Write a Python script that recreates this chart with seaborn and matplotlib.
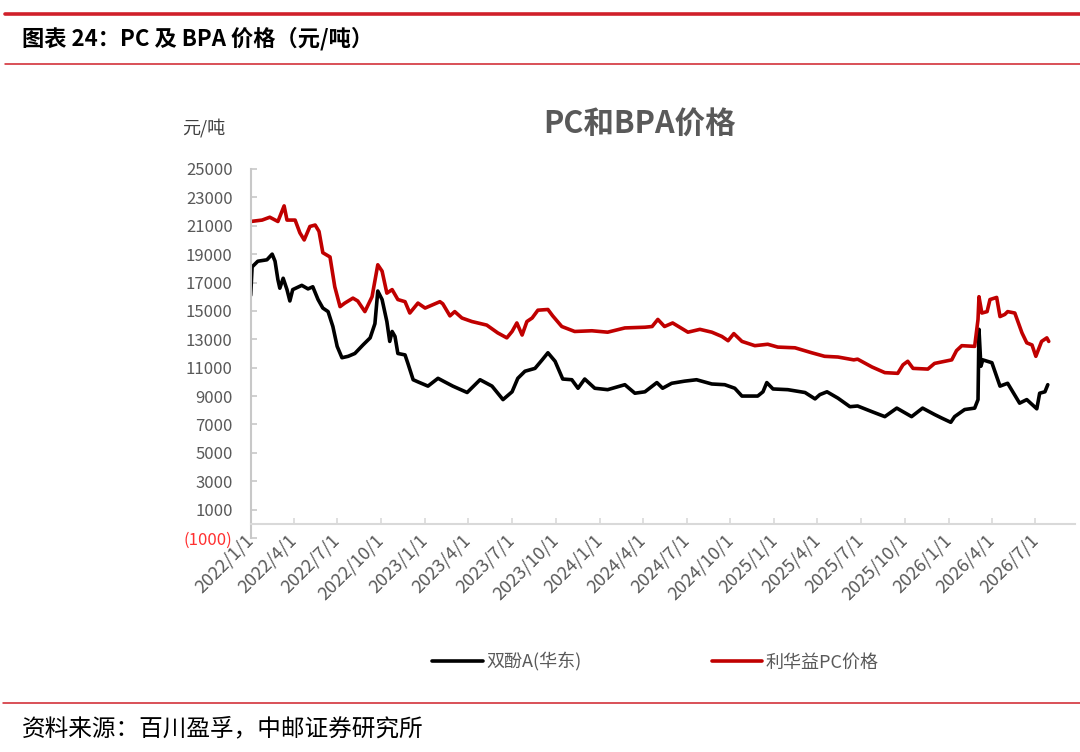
import pandas as pd
import numpy as np
import matplotlib
matplotlib.use('Agg')
import matplotlib.pyplot as plt
import matplotlib.ticker as mticker
from matplotlib.lines import Line2D
import seaborn as sns

# Data (元/吨)
bpa_dates = ['2022-01-01', '2022-01-04', '2022-01-16', '2022-02-04', '2022-02-15', '2022-02-21',
             '2022-02-27', '2022-03-03', '2022-03-10', '2022-03-18', '2022-03-24', '2022-03-30',
             '2022-04-18', '2022-05-01', '2022-05-11', '2022-05-22', '2022-06-01', '2022-06-12',
             '2022-06-22', '2022-07-01', '2022-07-11', '2022-07-24', '2022-08-07', '2022-08-24',
             '2022-09-08', '2022-09-18', '2022-09-24', '2022-10-03', '2022-10-13', '2022-10-19',
             '2022-10-24', '2022-10-30', '2022-11-05', '2022-11-20', '2022-11-26', '2022-12-07',
             '2022-12-17', '2023-01-07', '2023-01-28', '2023-02-11', '2023-02-28', '2023-03-30',
             '2023-04-26', '2023-05-21', '2023-06-13', '2023-07-02', '2023-07-14', '2023-07-29',
             '2023-08-19', '2023-09-03', '2023-09-15', '2023-09-30', '2023-10-16', '2023-11-04',
             '2023-11-17', '2023-12-01', '2023-12-22', '2024-01-18', '2024-02-23', '2024-03-15',
             '2024-04-05', '2024-04-30', '2024-05-12', '2024-05-31', '2024-06-27', '2024-07-22',
             '2024-08-23', '2024-09-19', '2024-10-10', '2024-10-25', '2024-11-27', '2024-12-08',
             '2024-12-16', '2024-12-29', '2025-01-29', '2025-03-06', '2025-03-27', '2025-04-06',
             '2025-04-21', '2025-05-14', '2025-06-08', '2025-06-24', '2025-07-24', '2025-08-20',
             '2025-09-14', '2025-10-15', '2025-11-07', '2025-12-02', '2025-12-17', '2026-01-05',
             '2026-01-13', '2026-02-03', '2026-02-24', '2026-03-03', '2026-03-05', '2026-03-09',
             '2026-03-13', '2026-04-01', '2026-04-18', '2026-05-04', '2026-05-29', '2026-06-13',
             '2026-07-04', '2026-07-10', '2026-07-21', '2026-07-27']
bpa_values = [16100, 18100, 18500, 18600, 19000, 18500,
              17200, 16600, 17300, 16500, 15700, 16500,
              16800, 16550, 16700, 15800, 15200, 14950,
              13900, 12500, 11700, 11800, 12000, 12600,
              13100, 14100, 16400, 15800, 14250, 12850,
              13550, 13200, 12000, 11900, 11300, 10150,
              10000, 9700, 10250, 10000, 9700, 9250,
              10150, 9700, 8750, 9300, 10250, 10750,
              10950, 11550, 12050, 11450, 10200, 10150,
              9550, 10200, 9550, 9450, 9800, 9200,
              9300, 9950, 9550, 9900, 10050, 10150,
              9850, 9800, 9550, 9000, 9000, 9300,
              9950, 9500, 9450, 9250, 8800, 9100,
              9300, 8850, 8250, 8300, 7900, 7550,
              8150, 7550, 8150, 7700, 7450, 7150,
              7550, 8050, 8150, 8750, 13700, 11100,
              11550, 11350, 9700, 9900, 8500, 8750,
              8100, 9200, 9300, 9800]

pc_dates = ['2022-01-01', '2022-01-25', '2022-02-10', '2022-02-27', '2022-03-12', '2022-03-18',
            '2022-04-04', '2022-04-14', '2022-04-23', '2022-05-05', '2022-05-16', '2022-05-24',
            '2022-06-01', '2022-06-16', '2022-06-26', '2022-07-07', '2022-07-17', '2022-08-03',
            '2022-08-13', '2022-08-28', '2022-09-12', '2022-09-24', '2022-10-03', '2022-10-13',
            '2022-10-24', '2022-11-05', '2022-11-20', '2022-11-30', '2022-12-17', '2023-01-01',
            '2023-02-01', '2023-02-07', '2023-02-22', '2023-03-04', '2023-03-19', '2023-04-09',
            '2023-05-10', '2023-06-02', '2023-06-21', '2023-07-02', '2023-07-12', '2023-07-23',
            '2023-08-02', '2023-08-13', '2023-08-25', '2023-09-15', '2023-09-25', '2023-10-14',
            '2023-11-10', '2023-12-16', '2024-01-18', '2024-02-23', '2024-04-05', '2024-04-20',
            '2024-05-02', '2024-05-16', '2024-06-02', '2024-07-04', '2024-07-29', '2024-08-23',
            '2024-09-13', '2024-09-26', '2024-10-08', '2024-10-25', '2024-11-21', '2024-12-18',
            '2025-01-08', '2025-02-13', '2025-03-20', '2025-04-16', '2025-05-14', '2025-06-16',
            '2025-06-24', '2025-07-24', '2025-08-20', '2025-09-16', '2025-09-27', '2025-10-07',
            '2025-10-18', '2025-11-18', '2025-12-02', '2026-01-07', '2026-01-17', '2026-01-28',
            '2026-02-24', '2026-03-03', '2026-03-05', '2026-03-11', '2026-03-22', '2026-03-28',
            '2026-04-11', '2026-04-18', '2026-04-28', '2026-05-04', '2026-05-19', '2026-06-03',
            '2026-06-13', '2026-06-24', '2026-07-02', '2026-07-06', '2026-07-14', '2026-07-25',
            '2026-07-29']
pc_values = [21300, 21400, 21600, 21300, 22400, 21400,
             21400, 20500, 20000, 20950, 21050, 20600,
             19100, 18800, 16700, 15300, 15550, 15900,
             15700, 14950, 16000, 18250, 17800, 16250,
             16500, 15800, 15650, 14850, 15550, 15200,
             15650, 15500, 14650, 14950, 14500, 14250,
             14000, 13450, 13100, 13550, 14150, 13300,
             14250, 14500, 15050, 15100, 14650, 13900,
             13550, 13600, 13500, 13800, 13850, 13900,
             14400, 13900, 14150, 13500, 13700, 13500,
             13200, 12900, 13400, 12850, 12550, 12650,
             12450, 12400, 12050, 11800, 11750, 11550,
             11600, 11050, 10650, 10600, 11200, 11450,
             10950, 10900, 11300, 11550, 12200, 12550,
             12500, 14400, 16000, 14850, 14950, 15800,
             15950, 14600, 14750, 14950, 14850, 13450,
             12750, 12600, 11800, 12150, 12850, 13100,
             12850]

series_names = ['双酚A(华东)', '利华益PC价格']
series_colors = ['#000000', '#c00000']
tick_dates = ['2022-01-01', '2022-04-01', '2022-07-01', '2022-10-01', '2023-01-01', '2023-04-01',
              '2023-07-01', '2023-10-01', '2024-01-01', '2024-04-01', '2024-07-01', '2024-10-01',
              '2025-01-01', '2025-04-01', '2025-07-01', '2025-10-01', '2026-01-01', '2026-04-01',
              '2026-07-01']

df = pd.concat([
    pd.DataFrame({'date': pd.to_datetime(bpa_dates), 'value': bpa_values, 'series': series_names[0]}),
    pd.DataFrame({'date': pd.to_datetime(pc_dates), 'value': pc_values, 'series': series_names[1]}),
], ignore_index=True)

sns.set_style('white')
plt.rcParams['font.family'] = ['Noto Sans CJK SC', 'DejaVu Sans']

fig = plt.figure(figsize=(10.8, 7.52), dpi=100)
ax = fig.add_axes([0.2321, 0.2846, 0.7633, 0.4907])

sns.lineplot(data=df, x='date', y='value', hue='series', hue_order=series_names,
             palette=series_colors, estimator=None, sort=False, linewidth=2.6, ax=ax)

# axes
ax.set_ylim(-1000, 25000)
ax.set_yticks(np.arange(-1000, 25001, 2000))
ax.yaxis.set_major_formatter(mticker.FuncFormatter(
    lambda v, p: f'({abs(int(v))})' if v < 0 else f'{int(v)}'))
ax.set_xlim(pd.Timestamp('2022-01-01'), pd.Timestamp('2026-09-22'))
ticks = pd.to_datetime(tick_dates)
ax.set_xticks(ticks)
ax.set_xticklabels([f'{d.year}/{d.month}/{d.day}' for d in ticks])
ax.set_xlabel('')
ax.set_ylabel('')

for s in ['top', 'right']:
    ax.spines[s].set_visible(False)
ax.spines['bottom'].set_position(('data', 0))
ax.spines['bottom'].set_color('#d9d9d9')
ax.spines['bottom'].set_linewidth(1.5)
ax.spines['left'].set_color('#c8c8c8')
ax.spines['left'].set_linewidth(1.5)

ax.tick_params(axis='y', direction='in', length=4, width=1.2, color='#c8c8c8',
               labelsize=12, labelcolor='#595959', pad=13, left=True)
ax.tick_params(axis='x', direction='in', length=4, width=1.2, color='#d9d9d9',
               labelsize=13, labelcolor='#595959', pad=10, bottom=True)
for lab in ax.get_xticklabels():
    lab.set_rotation(45)
    lab.set_ha('right')
    lab.set_va('center')
    lab.set_rotation_mode('anchor')
for lab in ax.get_yticklabels():
    if lab.get_text().startswith('('):
        lab.set_color('#ff3030')

# legend
handles, labels = ax.get_legend_handles_labels()
ax.get_legend().remove()
fig.legend(handles, labels, loc='center', bbox_to_anchor=(0.607, 0.1197), ncol=2,
           frameon=False, fontsize=13, handlelength=2.8, handletextpad=0.2,
           columnspacing=7.2, labelcolor='#595959')

# titles and texts
fig.text(0.5926, 0.834, 'PC和BPA价格', fontsize=22, fontweight='bold',
         color='#595959', ha='center', va='center')
fig.text(0.169, 0.830, '元/吨', fontsize=13, color='#404040', ha='left', va='center')
fig.text(0.020, 0.949, '图表 24：PC 及 BPA 价格（元/吨）', fontsize=16, fontweight='bold',
         color='#000000', ha='left', va='center')
fig.text(0.020, 0.031, '资料来源：百川盈孚，中邮证券研究所', fontsize=17,
         color='#000000', ha='left', va='center')

# report frame lines
fig.add_artist(Line2D([0.005, 1.0], [1 - 14 / 752] * 2, color='#d0202a', linewidth=2.6))
fig.add_artist(Line2D([0.005, 1.0], [1 - 63.5 / 752] * 2, color='#d0202a', linewidth=1.1))
fig.add_artist(Line2D([0.003, 1.0], [1 - 703 / 752] * 2, color='#d0202a', linewidth=1.1))

fig.savefig('out.png', dpi=100)
